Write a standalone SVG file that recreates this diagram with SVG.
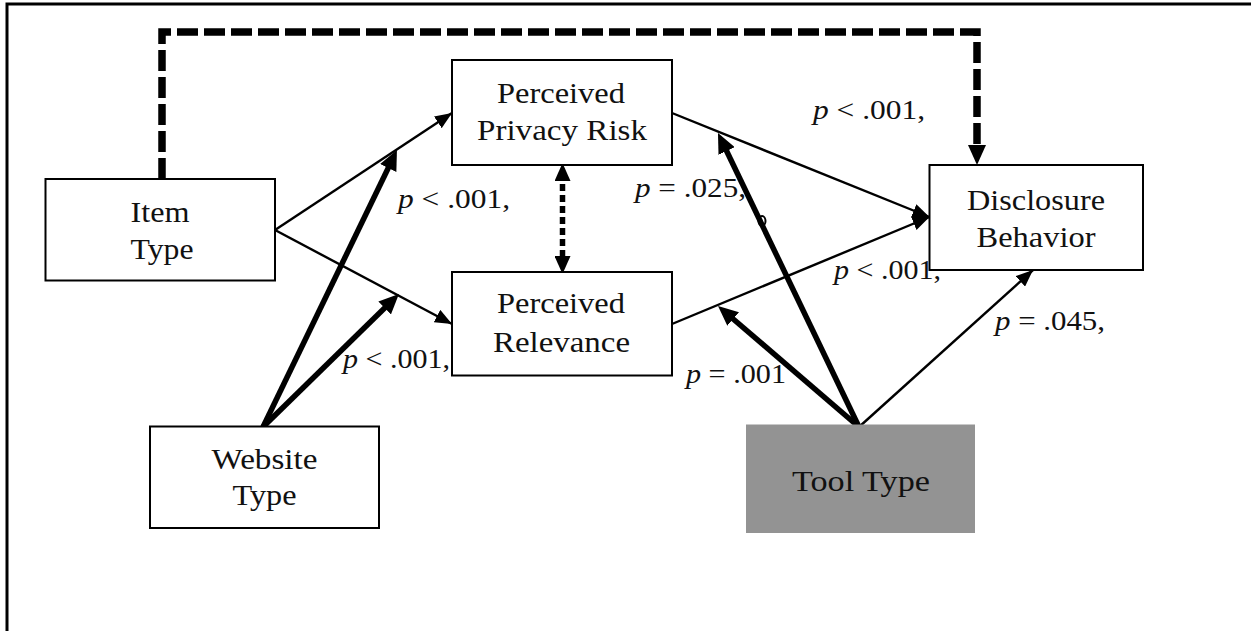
<svg xmlns="http://www.w3.org/2000/svg" width="1251" height="631" viewBox="0 0 1251 631">
<style>
.box{fill:#fff;stroke:#000;stroke-width:2}
.tool{fill:#939393;stroke:none}
.nt{font-family:"Liberation Serif","Times New Roman",serif;font-size:30px;text-anchor:middle;fill:#111}
.lb{font-family:"Liberation Serif","Times New Roman",serif;font-size:28px;fill:#111}
.it{font-style:italic}
.thin{fill:none;stroke:#000;stroke-width:2.4}
.thick{fill:none;stroke:#000;stroke-width:5.5}
.dash{fill:none;stroke:#000;stroke-width:7.5;stroke-dasharray:21 6}
.dot{fill:none;stroke:#000;stroke-width:5.5;stroke-dasharray:7 4}
</style>
<defs>
<marker id="ah" viewBox="0 0 17 14" refX="17" refY="7" markerWidth="17" markerHeight="14" markerUnits="userSpaceOnUse" orient="auto"><path d="M0,0 L17,7 L0,14 z" fill="#000"/></marker>
<marker id="ahk" viewBox="0 0 20 18" refX="10" refY="9" markerWidth="20" markerHeight="18" markerUnits="userSpaceOnUse" orient="auto-start-reverse"><path d="M0,0 L20,9 L0,18 z" fill="#000"/></marker>
<marker id="ahd" viewBox="0 0 18 16" refX="8" refY="8" markerWidth="18" markerHeight="16" markerUnits="userSpaceOnUse" orient="auto-start-reverse"><path d="M0,0 L18,8 L0,16 z" fill="#000"/></marker>
</defs>
<rect x="0" y="0" width="1251" height="631" fill="#fff"/>
<path d="M7,631 V4 H1251" fill="none" stroke="#000" stroke-width="3"/>

<g id="connectors">
<path class="dash" d="M162,179 V32 H977 V155" marker-end="url(#ahk)"/>
<path class="thin" d="M275,230 L452,113" marker-end="url(#ah)"/>
<path class="thin" d="M275,230 L452,324" marker-end="url(#ah)"/>
<path class="thin" d="M672,113 L929.5,217" marker-end="url(#ah)"/>
<path class="thin" d="M672,324 L929.5,217" marker-end="url(#ah)"/>
<path class="thin" d="M859,427 L1033,270" marker-end="url(#ah)"/>
<path class="thick" d="M263,427 L392.6,159" marker-end="url(#ahk)"/>
<path class="thick" d="M263,427 L391.8,301" marker-end="url(#ahk)"/>
<path class="thick" d="M859,427 L722.3,142" marker-end="url(#ahk)"/>
<path class="thick" d="M859,427 L725.6,312.5" marker-end="url(#ahk)"/>
<path class="dot" d="M562.5,173 V264" marker-start="url(#ahd)" marker-end="url(#ahd)"/>
<ellipse cx="762" cy="221" rx="3.5" ry="5" fill="none" stroke="#000" stroke-width="2"/>
</g>

<g id="item-type">
<rect class="box" x="45.5" y="179" width="229.5" height="101.5"/>
<text class="nt" x="160" y="222" textLength="59" lengthAdjust="spacingAndGlyphs">Item</text>
<text class="nt" x="162" y="259" textLength="63" lengthAdjust="spacingAndGlyphs">Type</text>
</g>
<g id="perceived-privacy-risk">
<rect class="box" x="452" y="60" width="220" height="105"/>
<text class="nt" x="561" y="103" textLength="128" lengthAdjust="spacingAndGlyphs">Perceived</text>
<text class="nt" x="562" y="140" textLength="170" lengthAdjust="spacingAndGlyphs">Privacy Risk</text>
</g>
<g id="perceived-relevance">
<rect class="box" x="452" y="272" width="220" height="103.5"/>
<text class="nt" x="561" y="313" textLength="128" lengthAdjust="spacingAndGlyphs">Perceived</text>
<text class="nt" x="561.5" y="352" textLength="137" lengthAdjust="spacingAndGlyphs">Relevance</text>
</g>
<g id="disclosure-behavior">
<rect class="box" x="929.5" y="165" width="213.5" height="105"/>
<text class="nt" x="1036" y="210" textLength="138" lengthAdjust="spacingAndGlyphs">Disclosure</text>
<text class="nt" x="1036" y="247" textLength="119" lengthAdjust="spacingAndGlyphs">Behavior</text>
</g>
<g id="website-type">
<rect class="box" x="150" y="426.5" width="229" height="101.5"/>
<text class="nt" x="264.5" y="469" textLength="106" lengthAdjust="spacingAndGlyphs">Website</text>
<text class="nt" x="264.5" y="505" textLength="64" lengthAdjust="spacingAndGlyphs">Type</text>
</g>
<g id="tool-type">
<rect class="tool" x="746" y="424.5" width="229" height="108.5"/>
<text class="nt" x="861" y="491" textLength="138" lengthAdjust="spacingAndGlyphs">Tool Type</text>
</g>

<g id="labels">
<text class="lb" x="813" y="119" textLength="112" lengthAdjust="spacingAndGlyphs"><tspan class="it">p</tspan> &lt; .001,</text>
<text class="lb" x="398" y="208" textLength="112" lengthAdjust="spacingAndGlyphs"><tspan class="it">p</tspan> &lt; .001,</text>
<text class="lb" x="635" y="197" textLength="111" lengthAdjust="spacingAndGlyphs"><tspan class="it">p</tspan> = .025,</text>
<text class="lb" x="834" y="279" textLength="107" lengthAdjust="spacingAndGlyphs"><tspan class="it">p</tspan> &lt; .001,</text>
<text class="lb" x="343" y="368" textLength="107" lengthAdjust="spacingAndGlyphs"><tspan class="it">p</tspan> &lt; .001,</text>
<text class="lb" x="686" y="383" textLength="100" lengthAdjust="spacingAndGlyphs"><tspan class="it">p</tspan> = .001</text>
<text class="lb" x="995" y="330" textLength="110" lengthAdjust="spacingAndGlyphs"><tspan class="it">p</tspan> = .045,</text>
</g>
</svg>
